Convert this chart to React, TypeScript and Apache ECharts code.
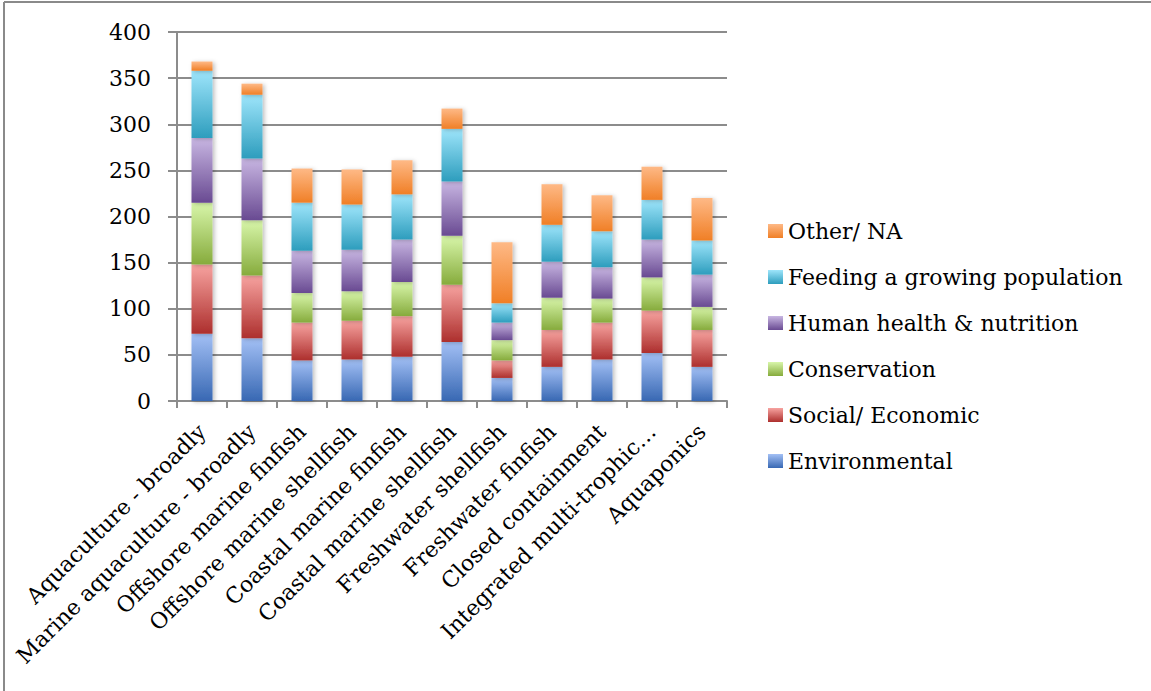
import React, { useEffect, useRef } from "react";
import * as echarts from "echarts";

// Farming categories along the x axis
const categories = [
  "Aquaculture - broadly",
  "Marine aquaculture - broadly",
  "Offshore marine finfish",
  "Offshore marine shellfish",
  "Coastal marine finfish",
  "Coastal marine shellfish",
  "Freshwater shellfish",
  "Freshwater finfish",
  "Closed containment",
  "Integrated multi-trophic…",
  "Aquaponics",
];

// Stacked segments, bottom to top
const environmental = [73, 68, 44, 45, 48, 64, 25, 37, 45, 52, 37];
const socialEconomic = [75, 68, 41, 42, 44, 62, 19, 40, 40, 46, 40];
const conservation = [67, 60, 32, 32, 37, 53, 22, 35, 26, 36, 25];
const humanHealth = [70, 67, 46, 45, 46, 59, 19, 39, 34, 41, 35];
const feeding = [73, 69, 52, 49, 49, 57, 21, 40, 39, 43, 37];
const otherNA = [10, 12, 37, 38, 37, 22, 66, 44, 39, 36, 46];

const yTicks = { min: 0, max: 400, interval: 50 };

const FONT = "DejaVu Serif";
const FONT_SIZE = 22;
const GRID_GRAY = "#8c8c8c";

const grad = (top: string, bottom: string) =>
  new echarts.graphic.LinearGradient(0, 0, 0, 1, [
    { offset: 0, color: top },
    { offset: 1, color: bottom },
  ]);

const seriesDefs = [
  { name: "Environmental", data: environmental, top: "#a3c0f5", bottom: "#3868b3" },
  { name: "Social/ Economic", data: socialEconomic, top: "#f7a3a0", bottom: "#ad2f2d" },
  { name: "Conservation", data: conservation, top: "#d8f6aa", bottom: "#86ab3c" },
  { name: "Human health & nutrition", data: humanHealth, top: "#c8b6e2", bottom: "#694a92" },
  { name: "Feeding a growing population", data: feeding, top: "#9ee5fb", bottom: "#2d9dbd" },
  { name: "Other/ NA", data: otherNA, top: "#feb986", bottom: "#f07f26" },
];

export default function App() {
  const ref = useRef<HTMLDivElement>(null);

  useEffect(() => {
    if (!ref.current) return;
    const chart = echarts.init(ref.current, undefined, { renderer: "svg" });
    chart.setOption({
      animation: false,
      backgroundColor: "#ffffff",
      textStyle: { fontFamily: FONT },
      graphic: [
        {
          type: "line",
          shape: { x1: 4, y1: 2, x2: 1151, y2: 2 },
          style: { stroke: "#8a8a8a", lineWidth: 2 },
        },
        {
          type: "line",
          shape: { x1: 4, y1: 2, x2: 4, y2: 691 },
          style: { stroke: "#8a8a8a", lineWidth: 2 },
        },
      ],
      grid: { left: 177, top: 32, width: 550, height: 369, containLabel: false },
      legend: {
        orient: "vertical",
        left: 768,
        top: 219,
        padding: 0,
        itemWidth: 15,
        itemHeight: 14,
        itemGap: 22,
        icon: "rect",
        data: seriesDefs.map((s) => s.name).reverse(),
        textStyle: { fontFamily: FONT, fontSize: FONT_SIZE, color: "#000", lineHeight: 24 },
      },
      xAxis: {
        type: "category",
        data: categories,
        axisLine: { lineStyle: { color: GRID_GRAY, width: 2 } },
        axisTick: { show: true, length: 7, lineStyle: { color: GRID_GRAY, width: 2 } },
        axisLabel: {
          interval: 0,
          rotate: 45,
          margin: 27,
          fontFamily: FONT,
          fontSize: FONT_SIZE,
          color: "#000",
        },
      },
      yAxis: {
        type: "value",
        min: yTicks.min,
        max: yTicks.max,
        interval: yTicks.interval,
        axisLine: { show: true, lineStyle: { color: GRID_GRAY, width: 2 } },
        axisTick: { show: true, length: 9, lineStyle: { color: GRID_GRAY, width: 2 } },
        splitLine: { show: true, lineStyle: { color: GRID_GRAY, width: 2 } },
        axisLabel: { margin: 26, fontFamily: FONT, fontSize: FONT_SIZE, color: "#000" },
      },
      series: seriesDefs.map((s) => ({
        name: s.name,
        type: "bar",
        stack: "total",
        barWidth: 21,
        data: s.data,
        itemStyle: {
          color: grad(s.top, s.bottom),
          shadowBlur: 4,
          shadowColor: "rgba(0,0,0,0.25)",
          shadowOffsetX: 2,
          shadowOffsetY: 1,
        },
      })),
    });
    return () => chart.dispose();
  }, []);

  return (
    <div
      ref={ref}
      style={{ position: "fixed", left: 0, top: 0, width: 1151, height: 691 }}
    />
  );
}
